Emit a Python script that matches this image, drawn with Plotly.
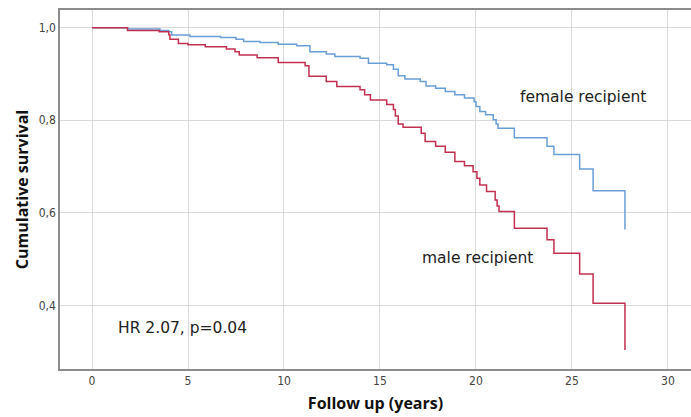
import plotly.graph_objects as go

# Kaplan-Meier estimates (follow-up time in years, cumulative survival)
female_time = [0, 1.85, 3.54, 4.0, 4.15, 5.1, 6.7, 7.5, 7.9, 8.75, 9.7, 10.66, 11.35,
               12.2, 12.65, 13.96, 14.4, 15.35, 15.7, 15.95, 16.3, 17.1, 17.4, 17.9,
               18.4, 18.9, 19.4, 19.9, 20.0, 20.2, 20.5, 20.9, 21.05, 21.15, 22.0,
               23.7, 24.06, 25.4, 26.1, 27.76]
female_surv = [1.0, 0.997, 0.994, 0.991, 0.984, 0.981, 0.979, 0.975, 0.970, 0.968, 0.964,
               0.961, 0.948, 0.943, 0.938, 0.934, 0.923, 0.920, 0.910, 0.896, 0.889,
               0.884, 0.874, 0.869, 0.862, 0.855, 0.848, 0.840, 0.830, 0.819, 0.812,
               0.801, 0.792, 0.783, 0.762, 0.744, 0.726, 0.695, 0.648, 0.564]

male_time = [0, 1.85, 3.5, 4.0, 4.06, 4.5, 5.0, 5.9, 7.0, 7.45, 7.67, 8.6, 9.7, 11.1,
             11.3, 12.2, 12.75, 13.96, 14.2, 14.5, 15.35, 15.7, 15.8, 15.95, 16.2,
             17.15, 17.35, 17.9, 18.4, 18.9, 19.4, 19.85, 20.05, 20.2, 20.55, 21.0,
             21.1, 21.2, 22.0, 23.7, 24.06, 25.4, 26.1, 27.76]
male_surv = [1.0, 0.994, 0.991, 0.985, 0.975, 0.966, 0.963, 0.959, 0.954, 0.948, 0.941,
             0.935, 0.925, 0.918, 0.895, 0.884, 0.873, 0.866, 0.855, 0.844, 0.834,
             0.823, 0.809, 0.792, 0.785, 0.772, 0.754, 0.744, 0.731, 0.711, 0.702,
             0.689, 0.675, 0.660, 0.646, 0.628, 0.615, 0.603, 0.567, 0.542, 0.513,
             0.468, 0.405, 0.304]

x_ticks = [0, 5, 10, 15, 20, 25, 30]
y_ticks = [0.4, 0.6, 0.8, 1.0]
y_tick_text = ["0,4", "0,6", "0,8", "1,0"]

BLUE = "#6a9fd6"
RED = "#c1304f"
FONT = "Open Sans"

fig = go.Figure()
fig.add_trace(go.Scatter(x=female_time, y=female_surv, mode="lines",
                         line=dict(shape="hv", color=BLUE, width=1.5),
                         name="female recipient", showlegend=False))
fig.add_trace(go.Scatter(x=male_time, y=male_surv, mode="lines",
                         line=dict(shape="hv", color=RED, width=1.5),
                         name="male recipient", showlegend=False))

label_font = dict(family="DejaVu Sans", size=15.5, color="#222222")
fig.add_annotation(x=25.57, y=0.851, text="female recipient", showarrow=False, font=label_font)
fig.add_annotation(x=20.08, y=0.502, text="male recipient", showarrow=False, font=label_font)
fig.add_annotation(x=4.71, y=0.352, text="HR 2.07, p=0.04", showarrow=False, font=label_font)

fig.update_layout(
    width=691, height=417,
    margin=dict(l=60, r=0, t=10, b=48),
    paper_bgcolor="white", plot_bgcolor="white",
    font=dict(family=FONT, color="#333333"),
    xaxis=dict(
        range=[-1.667, 31.2], tickvals=x_ticks,
        showgrid=True, gridcolor="#d9d9d9", gridwidth=1,
        showline=True, linecolor="#8c8c8c", linewidth=1.5, mirror=True,
        zeroline=False, ticks="",
        tickfont=dict(family="DejaVu Sans Condensed", size=12, color="#444444"),
        title=dict(text="<b>Follow up (years)</b>", standoff=11,
                   font=dict(family=FONT, size=16, color="#111111")),
    ),
    yaxis=dict(
        range=[0.2627, 1.0382], tickvals=y_ticks, ticktext=y_tick_text,
        showgrid=True, gridcolor="#d9d9d9", gridwidth=1,
        showline=True, linecolor="#8c8c8c", linewidth=1.5,
        zeroline=False, ticks="",
        tickfont=dict(family="DejaVu Sans Condensed", size=12, color="#444444"),
        title=dict(text="<b>Cumulative survival</b>", standoff=6,
                   font=dict(family=FONT, size=16, color="#111111")),
    ),
)

fig.write_html("out.html")
